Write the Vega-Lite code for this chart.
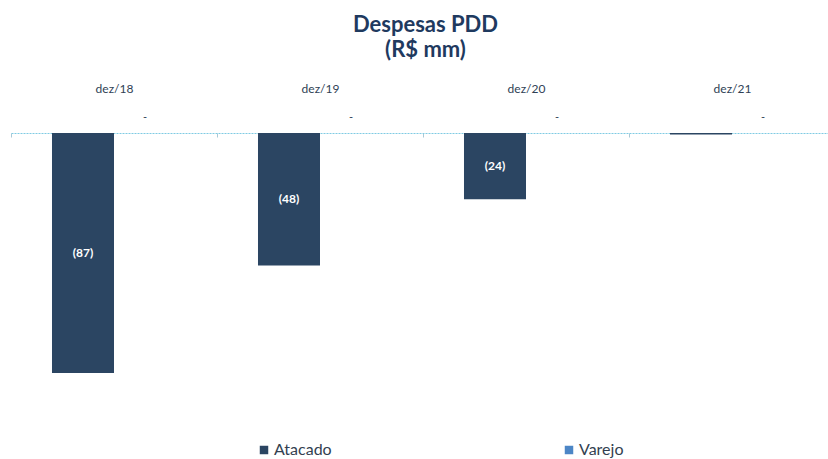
{
  "$schema": "https://vega.github.io/schema/vega-lite/v6.json",
  "width": 817,
  "height": 276,
  "autosize": {"type": "none"},
  "padding": {"left": 11, "top": 133, "right": 0, "bottom": 50},
  "background": "white",
  "title": {
    "text": ["Despesas PDD", "(R$ mm)"],
    "font": "Lato",
    "fontSize": 22,
    "fontWeight": "bold",
    "color": "#1F3A5F",
    "anchor": "middle",
    "frame": "group",
    "dx": 6,
    "offset": 20,
    "lineHeight": 25
  },
  "config": {
    "view": {"stroke": null},
    "font": "Lato"
  },
  "data": {
    "values": [
      {"period": "dez/18", "series": "Atacado", "value": -87, "label": "(87)"},
      {"period": "dez/18", "series": "Varejo", "value": 0, "label": "-"},
      {"period": "dez/19", "series": "Atacado", "value": -48, "label": "(48)"},
      {"period": "dez/19", "series": "Varejo", "value": 0, "label": "-"},
      {"period": "dez/20", "series": "Atacado", "value": -24, "label": "(24)"},
      {"period": "dez/20", "series": "Varejo", "value": 0, "label": "-"},
      {"period": "dez/21", "series": "Atacado", "value": -0.5, "label": ""},
      {"period": "dez/21", "series": "Varejo", "value": 0, "label": "-"}
    ]
  },
  "encoding": {
    "x": {
      "field": "period",
      "type": "nominal",
      "sort": ["dez/18", "dez/19", "dez/20", "dez/21"],
      "scale": {"range": [0, 824], "paddingInner": 0.398, "paddingOuter": 0.199},
      "axis": {
        "orient": "top",
        "title": null,
        "labelAngle": 0,
        "labelFont": "Lato",
        "labelFontSize": 12,
        "labelColor": "#2F3F55",
        "labelPadding": 42,
        "domainColor": "#7FCBE3",
        "domainDash": [2, 1],
        "domainWidth": 1.2,
        "ticks": true,
        "tickOffset": -103,
        "labelOffset": 103,
        "tickSize": -4,
        "tickColor": "#A9C9D6"
      }
    },
    "xOffset": {
      "field": "series",
      "type": "nominal",
      "sort": ["Atacado", "Varejo"],
      "scale": {"paddingInner": 0, "paddingOuter": 0}
    }
  },
  "layer": [
    {
      "mark": {"type": "bar"},
      "encoding": {
        "y": {
          "field": "value",
          "type": "quantitative",
          "scale": {"domain": [-100, 0], "nice": false, "zero": true},
          "axis": null
        },
        "color": {
          "field": "series",
          "type": "nominal",
          "scale": {"domain": ["Atacado", "Varejo"], "range": ["#2B4562", "#4C86C6"]},
          "legend": {
            "orient": "none",
            "legendX": 245,
            "legendY": 309,
            "direction": "horizontal",
            "title": null,
            "symbolType": "square",
            "symbolSize": 72,
            "symbolStrokeWidth": 0,
            "labelOffset": 2,
            "labelFont": "Lato",
            "labelFontSize": 16,
            "labelColor": "#333F50",
            "columnPadding": 229
          }
        }
      }
    },
    {
      "transform": [
        {"filter": "datum.series === 'Atacado'"},
        {"calculate": "datum.value / 2", "as": "mid"}
      ],
      "mark": {"type": "text", "color": "white", "fontWeight": "bold", "fontSize": 12, "font": "Lato", "baseline": "middle"},
      "encoding": {
        "y": {"field": "mid", "type": "quantitative"},
        "text": {"field": "label"}
      }
    },
    {
      "transform": [{"filter": "datum.series === 'Varejo'"}],
      "mark": {"type": "text", "color": "#2F3F55", "fontSize": 11, "font": "Lato", "baseline": "middle", "dy": -15},
      "encoding": {
        "y": {"field": "value", "type": "quantitative"},
        "text": {"field": "label"}
      }
    }
  ]
}
